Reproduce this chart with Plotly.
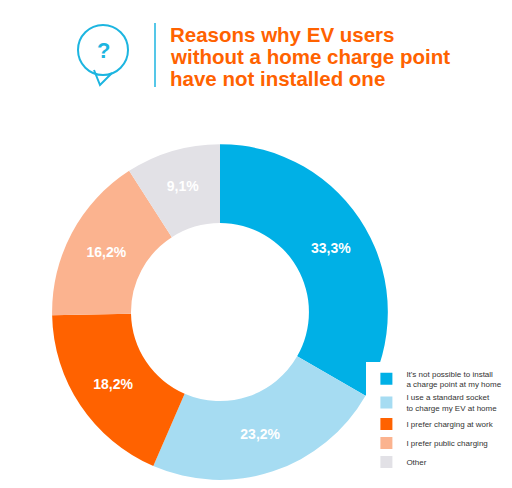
import plotly.graph_objects as go

labels = ["It's not possible to install<br>a charge point at my home",
          "I use a standard socket<br>to charge my EV at home",
          "I prefer charging at work",
          "I prefer public charging",
          "Other"]
values = [33.3, 23.2, 18.2, 16.2, 9.1]
text_labels = ["33,3%", "23,2%", "18,2%", "16,2%", "9,1%"]
colors = ["#00b0e6", "#a6dcf2", "#ff6200", "#fbb38f", "#e2e1e6"]
title_lines = ["Reasons why EV users", "without a home charge point", "have not installed one"]

W, H = 512, 488
def px(x): return x / W
def py(y): return 1 - y / H

fig = go.Figure(go.Pie(
    labels=labels, values=values, text=text_labels, textinfo="text",
    texttemplate="<b>%{text}</b>", textposition="inside", insidetextorientation="horizontal",
    textfont=dict(color="white", size=14, family="Liberation Sans"),
    marker=dict(colors=colors, line=dict(width=0)),
    hole=0.53, sort=False, direction="clockwise", rotation=0,
    domain=dict(x=[0.082, 0.746], y=[0.033, 0.721]),
))
anns = [dict(text="<b>?</b>", x=px(95), y=py(42), xref="paper", yref="paper",
             xanchor="center", yanchor="middle", showarrow=False,
             font=dict(size=22, color="#1cb5e0", family="Liberation Sans"))]
for i, t in enumerate(title_lines):
    anns.append(dict(text=f"<b>{t}</b>", x=px(160), y=py(26 + 22.5 * i), xref="paper", yref="paper",
                     xanchor="left", yanchor="middle", showarrow=False,
                     font=dict(size=20.5, color="#ff6200", family="Liberation Sans")))
fig.update_layout(
    width=W, height=H, margin=dict(l=0, r=0, t=0, b=0),
    paper_bgcolor="white", plot_bgcolor="white",
    legend=dict(x=0.70, y=0.275, xanchor="left", yanchor="top",
                font=dict(size=8, color="#333333", family="Liberation Sans"),
                itemsizing="constant", tracegroupgap=6, itemwidth=30),
    shapes=[
        dict(type="circle", xref="paper", yref="paper", x0=px(70), x1=px(120),
             y0=py(67), y1=py(17), line=dict(color="#1cb5e0", width=2), fillcolor="white"),
        dict(type="path", xref="paper", yref="paper",
             path=f"M {px(86)} {py(62)} L {px(92)} {py(77)} L {px(104)} {py(65)}",
             line=dict(color="#1cb5e0", width=2)),
        dict(type="line", xref="paper", yref="paper", x0=px(147), x1=px(147),
             y0=py(79), y1=py(15), line=dict(color="#1cb5e0", width=1.5)),
    ],
    annotations=anns,
)
fig.write_html("out.html")
